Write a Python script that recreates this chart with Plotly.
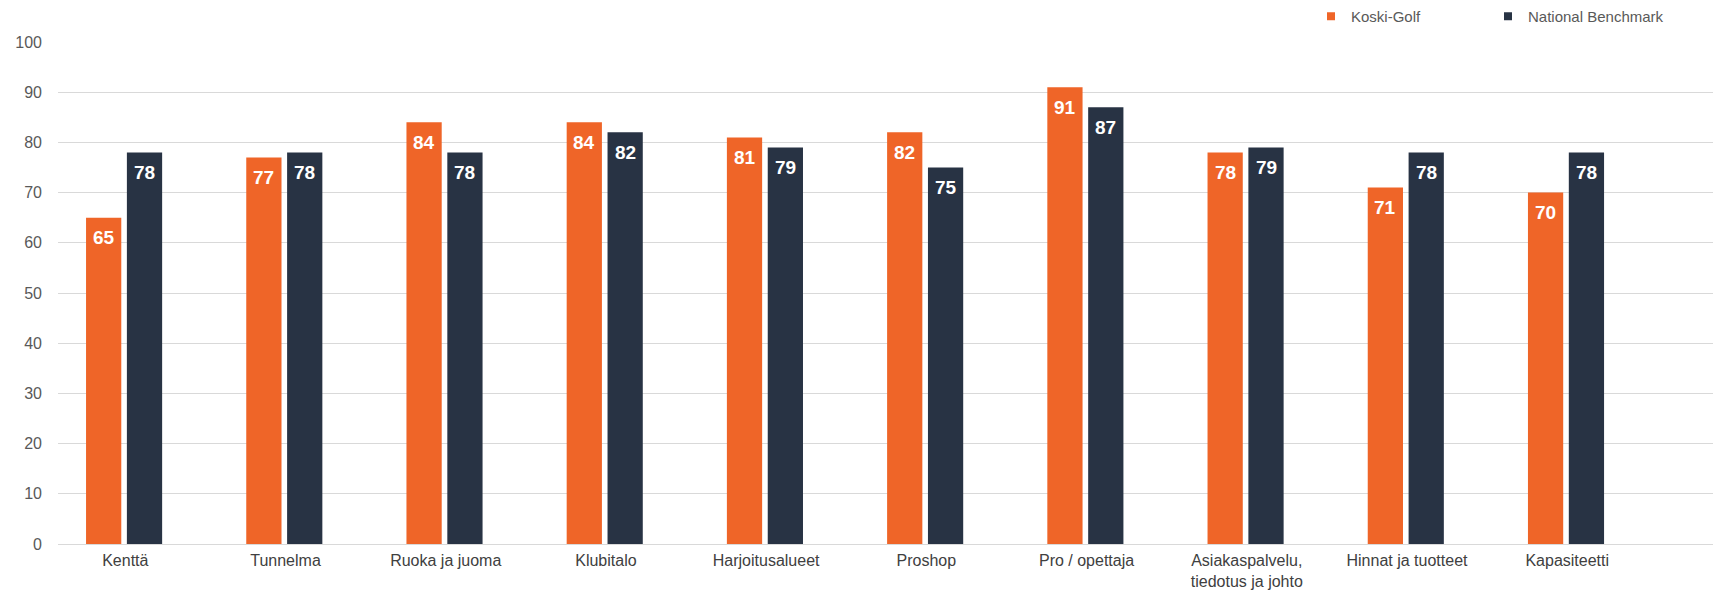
import plotly.graph_objects as go

categories = ["Kenttä", "Tunnelma", "Ruoka ja juoma", "Klubitalo", "Harjoitusalueet",
              "Proshop", "Pro / opettaja", "Asiakaspalvelu,<br>tiedotus ja johto",
              "Hinnat ja tuotteet", "Kapasiteetti"]
koski_golf = [65, 77, 84, 84, 81, 82, 91, 78, 71, 70]
national_benchmark = [78, 78, 78, 82, 79, 75, 87, 79, 78, 78]
y_ticks = [0, 10, 20, 30, 40, 50, 60, 70, 80, 90, 100]

ORANGE = "#EF6528"
NAVY = "#283344"
FONT = "Liberation Sans, Arial, sans-serif"

W, H = 1713, 592
M_L, M_R, M_T, M_B = 58, 0, 42, 48
PLOT_H = H - M_T - M_B

BAR_W = 0.22
series = [("Koski-Golf", koski_golf, ORANGE, -0.245),
          ("National Benchmark", national_benchmark, NAVY, 0.010)]

fig = go.Figure()
annotations = []
for name, vals, col, off in series:
    fig.add_trace(go.Bar(
        x=list(range(len(categories))), y=vals, name=name, marker_color=col,
        marker_line_width=0, width=BAR_W, offset=off, showlegend=False,
        hoverinfo="y+name",
    ))
    fig.add_trace(go.Scatter(
        x=[None], y=[None], mode="markers", name=name,
        marker=dict(symbol="square", size=8, color=col), showlegend=True,
    ))
    for i, v in enumerate(vals):
        annotations.append(dict(
            x=i + off + BAR_W / 2, y=v, xref="x", yref="y", text=str(v),
            showarrow=False, yanchor="middle", yshift=-20,
            font=dict(color="white", size=19, family=FONT, weight="bold"),
        ))

fig.update_layout(
    width=W, height=H,
    margin=dict(l=M_L, r=M_R, t=M_T, b=M_B),
    paper_bgcolor="white", plot_bgcolor="white",
    barmode="overlay",
    font=dict(family=FONT, color="#595959"),
    annotations=annotations,
    legend=dict(orientation="h", xref="paper", yref="paper",
                x=(1311 - M_L) / (W - M_L - M_R), y=1 + M_T / PLOT_H,
                xanchor="left", yanchor="top",
                font=dict(size=15, color="#595959"), itemwidth=30,
                entrywidth=132, entrywidthmode="pixels"),
    xaxis=dict(range=[-0.42, 9.91], showgrid=False, zeroline=False, showline=False,
               ticks="", tickmode="array", tickvals=list(range(len(categories))),
               ticktext=categories, ticklabelstandoff=5,
               tickfont=dict(size=16, color="#404040")),
    yaxis=dict(range=[0, 100], tickvals=y_ticks, showgrid=True, gridcolor="#D9D9D9",
               gridwidth=1, zeroline=True, zerolinecolor="#D9D9D9", zerolinewidth=1,
               showline=False, ticks="", ticklabelstandoff=15,
               tickfont=dict(size=16, color="#595959")),
)

fig.write_html("out.html", config={"displayModeBar": False},
               post_script="document.body.style.margin='0';")
